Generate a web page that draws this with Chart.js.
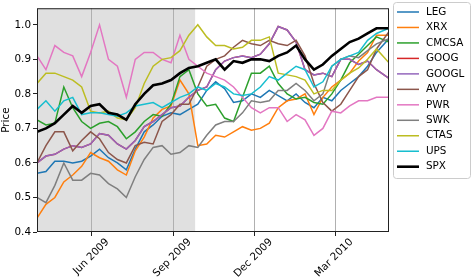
<!DOCTYPE html>
<html>
<head>
<meta charset="utf-8">
<script src="https://cdn.jsdelivr.net/npm/chart.js@4.4.1/dist/chart.umd.min.js"></script>
<style>
  html, body { margin: 0; padding: 0; background: #fff; }
  canvas { display: block; }
</style>
</head>
<body>
<canvas id="chart" width="472" height="280"></canvas>
<script>
// Days counted from 1 Apr 2009
const days = [0, 10, 20, 30, 40, 50, 60, 70, 80, 90, 100, 110, 120, 130, 140, 150, 160, 170, 180, 190,
              200, 210, 220, 230, 240, 250, 260, 270, 280, 290, 300, 310, 320, 330, 340, 350, 360, 370, 380, 394];

const xTickDays = [61, 153, 244, 334];
const xTickLabels = ['Jun 2009', 'Sep 2009', 'Dec 2009', 'Mar 2010'];
const yTicks = [0.4, 0.5, 0.6, 0.7, 0.8, 0.9, 1.0];
const shadeEndDay = 177;

const names = ['LEG', 'XRX', 'CMCSA', 'GOOG', 'GOOGL', 'AVY', 'PWR', 'SWK', 'CTAS', 'UPS', 'SPX'];

const leg = [0.57, 0.575, 0.605, 0.605, 0.60, 0.605, 0.62, 0.64, 0.615, 0.60,
             0.58, 0.64, 0.69, 0.71, 0.735, 0.745, 0.74, 0.755, 0.77, 0.81,
             0.835, 0.815, 0.775, 0.78, 0.80, 0.79, 0.81, 0.795, 0.78, 0.80,
             0.775, 0.76, 0.79, 0.78, 0.81, 0.83, 0.85, 0.88, 0.92, 0.96];
const xrx = [0.44, 0.48, 0.50, 0.545, 0.565, 0.59, 0.63, 0.615, 0.605, 0.58,
             0.565, 0.635, 0.675, 0.73, 0.755, 0.765, 0.84, 0.80, 0.65, 0.655,
             0.68, 0.675, 0.69, 0.705, 0.695, 0.70, 0.715, 0.76, 0.78, 0.785,
             0.80, 0.74, 0.79, 0.82, 0.84, 0.86, 0.895, 0.92, 0.97, 0.97];
const cmcsa = [0.725, 0.71, 0.715, 0.82, 0.76, 0.72, 0.70, 0.715, 0.72, 0.705,
               0.67, 0.69, 0.72, 0.74, 0.735, 0.77, 0.85, 0.87, 0.80, 0.765,
               0.77, 0.73, 0.72, 0.79, 0.86, 0.86, 0.88, 0.83, 0.80, 0.785,
               0.79, 0.775, 0.77, 0.80, 0.84, 0.89, 0.915, 0.94, 0.965, 0.95];
const goog = [0.60, 0.62, 0.625, 0.64, 0.65, 0.645, 0.655, 0.685, 0.68, 0.655,
              0.64, 0.665, 0.705, 0.72, 0.74, 0.76, 0.765, 0.79, 0.81, 0.82,
              0.87, 0.895, 0.905, 0.91, 0.905, 0.915, 0.945, 0.995, 0.985, 0.95,
              0.87, 0.855, 0.86, 0.85, 0.90, 0.90, 0.885, 0.895, 0.87, 0.845];
const googl = [0.60, 0.62, 0.625, 0.64, 0.65, 0.645, 0.655, 0.685, 0.68, 0.655,
               0.64, 0.665, 0.705, 0.72, 0.74, 0.76, 0.765, 0.79, 0.81, 0.82,
               0.87, 0.895, 0.905, 0.91, 0.905, 0.915, 0.945, 0.995, 0.985, 0.95,
               0.87, 0.855, 0.86, 0.85, 0.90, 0.90, 0.885, 0.895, 0.87, 0.845];
const avy = [0.60, 0.65, 0.69, 0.69, 0.635, 0.665, 0.69, 0.67, 0.63, 0.61,
             0.60, 0.65, 0.66, 0.655, 0.72, 0.74, 0.77, 0.77, 0.82, 0.88,
             0.90, 0.91, 0.935, 0.955, 0.945, 0.94, 0.955, 0.945, 0.94, 0.955,
             0.91, 0.83, 0.775, 0.75, 0.77, 0.81, 0.85, 0.87, 0.93, 0.98];
const pwr = [0.91, 0.87, 0.94, 0.92, 0.91, 0.85, 0.92, 1.00, 0.90, 0.88,
             0.79, 0.90, 0.92, 0.92, 0.90, 0.89, 0.97, 0.90, 0.88, 0.86,
             0.85, 0.84, 0.82, 0.79, 0.76, 0.745, 0.76, 0.76, 0.72, 0.74,
             0.725, 0.68, 0.70, 0.75, 0.745, 0.765, 0.78, 0.78, 0.79, 0.79];
const swk = [0.50, 0.485, 0.535, 0.60, 0.55, 0.55, 0.57, 0.565, 0.54, 0.525,
             0.50, 0.56, 0.61, 0.645, 0.65, 0.625, 0.63, 0.65, 0.645, 0.68,
             0.71, 0.72, 0.72, 0.745, 0.78, 0.775, 0.78, 0.81, 0.81, 0.83,
             0.81, 0.78, 0.80, 0.88, 0.90, 0.91, 0.905, 0.925, 0.945, 0.96];
const ctas = [0.83, 0.86, 0.86, 0.85, 0.84, 0.82, 0.75, 0.745, 0.75, 0.73,
              0.725, 0.76, 0.83, 0.88, 0.90, 0.905, 0.925, 0.97, 1.00, 0.965,
              0.94, 0.94, 0.93, 0.935, 0.955, 0.955, 0.965, 0.86, 0.855, 0.85,
              0.84, 0.80, 0.81, 0.81, 0.84, 0.86, 0.875, 0.90, 0.93, 0.89];
const ups = [0.755, 0.78, 0.75, 0.78, 0.79, 0.74, 0.745, 0.745, 0.74, 0.735,
             0.745, 0.765, 0.77, 0.775, 0.76, 0.775, 0.79, 0.80, 0.82, 0.81,
             0.83, 0.82, 0.80, 0.795, 0.80, 0.82, 0.85, 0.84, 0.86, 0.88,
             0.87, 0.82, 0.835, 0.88, 0.90, 0.91, 0.92, 0.955, 0.975, 0.99];
const spx = [0.69, 0.70, 0.715, 0.74, 0.765, 0.745, 0.765, 0.77, 0.745, 0.74,
             0.725, 0.77, 0.80, 0.825, 0.83, 0.84, 0.86, 0.875, 0.88, 0.89,
             0.90, 0.87, 0.895, 0.89, 0.90, 0.90, 0.895, 0.91, 0.92, 0.94,
             0.90, 0.87, 0.885, 0.91, 0.93, 0.95, 0.96, 0.975, 0.99, 0.99];

const series = [leg, xrx, cmcsa, goog, googl, avy, pwr, swk, ctas, ups, spx];
const colors = ['#1f77b4', '#ff7f0e', '#2ca02c', '#d62728', '#9467bd', '#8c564b',
                '#e377c2', '#7f7f7f', '#bcbd22', '#17becf', '#000000'];

Chart.defaults.font.family = 'DejaVu Sans';
Chart.defaults.font.size = 10.4;
Chart.defaults.color = '#000';

const datasets = series.map((vals, i) => ({
    label: names[i],
    data: vals.map((v, j) => ({ x: days[j], y: v })),
    borderColor: colors[i],
    borderWidth: names[i] === 'SPX' ? 2.6 : 1.5,
    pointRadius: 0,
    tension: 0,
    fill: false,
    // the last series goes on top, like matplotlib
    order: series.length - i
}));

// Shaded band up to late September
const shade = {
    id: 'shade',
    beforeDraw(chart) {
        const { ctx, chartArea, scales } = chart;
        const x1 = scales.x.getPixelForValue(0);
        const x2 = scales.x.getPixelForValue(shadeEndDay);
        ctx.save();
        ctx.fillStyle = '#e0e0e0';
        ctx.fillRect(x1, chartArea.top, x2 - x1, chartArea.bottom - chartArea.top);
        ctx.restore();
    }
};

// Plot frame and the legend on the right
const frameAndLegend = {
    id: 'frameAndLegend',
    afterDraw(chart) {
        const { ctx, chartArea } = chart;
        ctx.save();
        ctx.strokeStyle = '#222';
        ctx.lineWidth = 1;
        ctx.strokeRect(chartArea.left + 0.5, chartArea.top + 0.5,
                       chartArea.right - chartArea.left - 1, chartArea.bottom - chartArea.top - 1);

        const bx = chartArea.right + 4, by = 2, bw = 77, bh = 176;
        ctx.fillStyle = 'rgba(255,255,255,0.8)';
        ctx.strokeStyle = '#cccccc';
        ctx.beginPath();
        ctx.roundRect(bx + 0.5, by + 0.5, bw, bh, 3);
        ctx.fill();
        ctx.stroke();

        ctx.font = '10.4px "DejaVu Sans"';
        ctx.textBaseline = 'middle';
        chart.data.datasets.forEach((ds, i) => {
            const y = by + 10 + i * 15.47;
            ctx.strokeStyle = ds.borderColor;
            ctx.lineWidth = ds.borderWidth;
            ctx.beginPath();
            ctx.moveTo(bx + 4, y);
            ctx.lineTo(bx + 26, y);
            ctx.stroke();
            ctx.fillStyle = '#000';
            ctx.fillText(ds.label, bx + 33, y);
        });
        ctx.restore();
    }
};

new Chart(document.getElementById('chart'), {
    type: 'line',
    data: { datasets: datasets },
    options: {
        responsive: false,
        animation: false,
        devicePixelRatio: 1,
        layout: { padding: { top: 3, right: 83, left: 0, bottom: 0 } },
        plugins: { legend: { display: false }, tooltip: { enabled: false } },
        scales: {
            x: {
                type: 'linear',
                min: 0,
                max: 394,
                afterBuildTicks: scale => { scale.ticks = xTickDays.map(v => ({ value: v })); },
                afterFit: scale => { scale.height = 48; },
                ticks: {
                    callback: v => xTickLabels[xTickDays.indexOf(v)],
                    minRotation: 45,
                    maxRotation: 45,
                    labelOffset: 16,
                    padding: 0,
                    color: '#000'
                },
                grid: { color: '#b0b0b0', tickColor: '#222', tickLength: 4, drawOnChartArea: true },
                border: { display: false }
            },
            y: {
                min: 0.4,
                max: 1.048,
                afterBuildTicks: scale => { scale.ticks = yTicks.map(v => ({ value: v })); },
                afterFit: scale => { scale.width = 37; },
                ticks: { callback: v => v.toFixed(1), padding: 2, color: '#000' },
                grid: { drawOnChartArea: false, tickColor: '#222', tickLength: 4 },
                border: { display: false },
                title: { display: true, text: 'Price', padding: { top: 0, bottom: 0 }, color: '#000' }
            }
        }
    },
    plugins: [shade, frameAndLegend]
});
</script>
</body>
</html>
